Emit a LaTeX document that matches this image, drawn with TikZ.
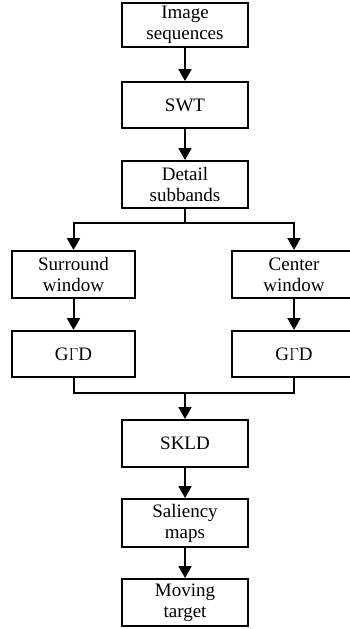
\documentclass[tikz,border=0pt]{standalone}
\usepackage{fontspec}
\setmainfont{Liberation Serif}
\usetikzlibrary{arrows.meta}
\begin{document}
\begin{tikzpicture}[x=1pt,y=-1pt,
  box/.style={draw,line width=2pt,inner sep=0pt,align=center,
    font=\fontsize{19}{21}\selectfont},
  arr/.style={line width=2pt,-{Triangle[length=12pt,width=13pt]}},
  ln/.style={line width=2pt}]
\clip (0,0) rectangle (350,629);
\node[box,minimum width=126pt,minimum height=44pt] (img) at (185,25) {Image\\sequences};
\node[box,minimum width=126pt,minimum height=46pt] (swt) at (185,105) {SWT};
\node[box,minimum width=126pt,minimum height=47pt] (det) at (185,184.5) {Detail\\subbands};
\node[box,minimum width=123pt,minimum height=47pt] (sur) at (73.5,274.5) {Surround\\window};
\node[box,minimum width=124pt,minimum height=47pt] (cen) at (294,274.5) {Center\\window};
\node[box,minimum width=123pt,minimum height=46pt] (g1) at (73.5,354) {G$\Gamma$D};
\node[box,minimum width=124pt,minimum height=46pt] (g2) at (294,354) {G$\Gamma$D};
\node[box,minimum width=126pt,minimum height=47pt] (skld) at (185,443.5) {SKLD};
\node[box,minimum width=126pt,minimum height=48pt] (sal) at (185,523) {Saliency\\maps};
\node[box,minimum width=126pt,minimum height=47pt] (mov) at (185,602.5) {Moving\\target};
\coordinate (split) at (185,223);
\coordinate (merge) at (185,393);
\draw[arr] (img) -- (swt);
\draw[arr] (swt) -- (det);
\draw[ln] (det) -- (split);
\draw[arr] (split) -| (sur);
\draw[arr] (split) -| (cen);
\draw[arr] (sur) -- (g1);
\draw[arr] (cen) -- (g2);
\draw[ln] (g1) |- (merge);
\draw[ln] (g2) |- (merge);
\draw[arr] (merge) -- (skld);
\draw[arr] (skld) -- (sal);
\draw[arr] (sal) -- (mov);
\end{tikzpicture}
\end{document}
